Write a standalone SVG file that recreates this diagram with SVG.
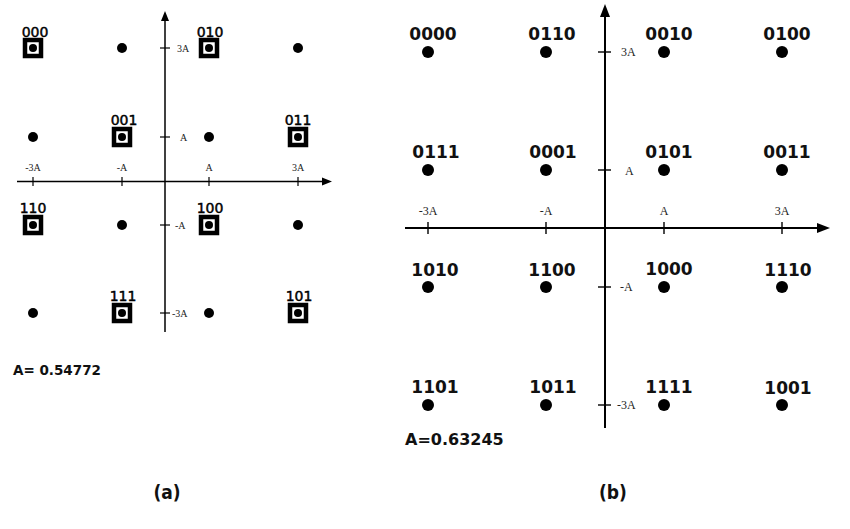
<svg xmlns="http://www.w3.org/2000/svg" width="850" height="529" viewBox="0 0 850 529">
<defs>
<style>
.ax{stroke:#000;fill:none}
.ah{fill:#000}
.dl{fill:#000}
.box{fill:#fff;stroke:#000;stroke-width:4.5}
.la{font-family:"DejaVu Sans",sans-serif;font-size:14px;text-anchor:middle;fill:#000;stroke:#000;stroke-width:0.45}
.lb{font-family:"DejaVu Sans",sans-serif;font-size:17px;font-weight:bold;text-anchor:middle;fill:#111}
.ta{font-family:"Liberation Serif",serif;font-size:10px;fill:#222}
.tb{font-family:"Liberation Serif",serif;font-size:12px;fill:#222}
.cap{font-family:"DejaVu Sans",sans-serif;font-weight:bold;fill:#111}
.sub{font-family:"DejaVu Sans Condensed","DejaVu Sans",sans-serif;font-weight:bold;font-size:19px;text-anchor:middle;fill:#111}
</style>
</defs>
<rect width="850" height="529" fill="#fff"/>

<!-- (a) axes -->
<g id="axes-a">
<line class="ax" stroke-width="1.5" x1="17" y1="181.5" x2="324" y2="181.5"/>
<polygon class="ah" points="332,181.5 322,177.5 322,185.5"/>
<line class="ax" stroke-width="1.5" x1="165" y1="20" x2="165" y2="332"/>
<polygon class="ah" points="165,11 161,21 169,21"/>
<g class="ax" stroke-width="1.2">
<line x1="33" y1="177" x2="33" y2="186"/>
<line x1="122" y1="177" x2="122" y2="186"/>
<line x1="209" y1="177" x2="209" y2="186"/>
<line x1="298" y1="177" x2="298" y2="186"/>
<line x1="160" y1="48" x2="170" y2="48"/>
<line x1="160" y1="137" x2="170" y2="137"/>
<line x1="160" y1="225" x2="170" y2="225"/>
<line x1="160" y1="313" x2="170" y2="313"/>
</g>
<text class="ta" x="33" y="171" text-anchor="middle">-3A</text>
<text class="ta" x="122" y="171" text-anchor="middle">-A</text>
<text class="ta" x="209" y="171" text-anchor="middle">A</text>
<text class="ta" x="298" y="171" text-anchor="middle">3A</text>
<text class="ta" x="177" y="52">3A</text>
<text class="ta" x="180" y="141">A</text>
<text class="ta" x="175" y="229">-A</text>
<text class="ta" x="172" y="317">-3A</text>
</g>

<!-- (a) points -->
<g id="a-000"><rect class="box" x="25" y="40" width="16" height="16"/><circle class="dl" cx="33" cy="48" r="4"/><text class="la" x="35" y="37">000</text></g>
<g id="a-p12"><circle class="dl" cx="122" cy="48" r="5"/></g>
<g id="a-010"><rect class="box" x="201" y="40" width="16" height="16"/><circle class="dl" cx="209" cy="48" r="4"/><text class="la" x="210" y="37">010</text></g>
<g id="a-p14"><circle class="dl" cx="298" cy="48" r="5"/></g>

<g id="a-p21"><circle class="dl" cx="33" cy="137" r="5"/></g>
<g id="a-001"><rect class="box" x="114" y="129" width="16" height="16"/><circle class="dl" cx="122" cy="137" r="4"/><text class="la" x="124" y="125">001</text></g>
<g id="a-p23"><circle class="dl" cx="209" cy="137" r="5"/></g>
<g id="a-011"><rect class="box" x="290" y="129" width="16" height="16"/><circle class="dl" cx="298" cy="137" r="4"/><text class="la" x="298" y="125">011</text></g>

<g id="a-110"><rect class="box" x="25" y="217" width="16" height="16"/><circle class="dl" cx="33" cy="225" r="4"/><text class="la" x="33" y="213">110</text></g>
<g id="a-p32"><circle class="dl" cx="122" cy="225" r="5"/></g>
<g id="a-100"><rect class="box" x="201" y="217" width="16" height="16"/><circle class="dl" cx="209" cy="225" r="4"/><text class="la" x="210" y="213">100</text></g>
<g id="a-p34"><circle class="dl" cx="298" cy="225" r="5"/></g>

<g id="a-p41"><circle class="dl" cx="33" cy="313" r="5"/></g>
<g id="a-111"><rect class="box" x="114" y="305" width="16" height="16"/><circle class="dl" cx="122" cy="313" r="4"/><text class="la" x="123" y="301">111</text></g>
<g id="a-p43"><circle class="dl" cx="209" cy="313" r="5"/></g>
<g id="a-101"><rect class="box" x="290" y="305" width="16" height="16"/><circle class="dl" cx="298" cy="313" r="4"/><text class="la" x="299" y="301">101</text></g>

<text class="cap" x="13" y="375" font-size="13.5">A= 0.54772</text>

<!-- (b) axes -->
<g id="axes-b">
<line class="ax" stroke-width="2" x1="405" y1="228" x2="818" y2="228"/>
<polygon class="ah" points="830,228 817,223 817,233"/>
<line class="ax" stroke-width="2" x1="605" y1="16" x2="605" y2="428"/>
<polygon class="ah" points="605,4 600,17 610,17"/>
<g class="ax" stroke-width="1.4">
<line x1="428" y1="222" x2="428" y2="234"/>
<line x1="546" y1="222" x2="546" y2="234"/>
<line x1="664" y1="222" x2="664" y2="234"/>
<line x1="782" y1="222" x2="782" y2="234"/>
<line x1="598" y1="52" x2="611" y2="52"/>
<line x1="598" y1="170" x2="611" y2="170"/>
<line x1="598" y1="287" x2="611" y2="287"/>
<line x1="598" y1="405" x2="611" y2="405"/>
</g>
<text class="tb" x="428" y="215" text-anchor="middle">-3A</text>
<text class="tb" x="546" y="215" text-anchor="middle">-A</text>
<text class="tb" x="664" y="215" text-anchor="middle">A</text>
<text class="tb" x="782" y="215" text-anchor="middle">3A</text>
<text class="tb" x="621" y="56">3A</text>
<text class="tb" x="625" y="175">A</text>
<text class="tb" x="620" y="291">-A</text>
<text class="tb" x="617" y="409">-3A</text>
</g>

<!-- (b) points -->
<g id="b-0000"><circle class="dl" cx="428" cy="52" r="6"/><text class="lb" x="433" y="40">0000</text></g>
<g id="b-0110"><circle class="dl" cx="546" cy="52" r="6"/><text class="lb" x="552" y="40">0110</text></g>
<g id="b-0010"><circle class="dl" cx="664" cy="52" r="6"/><text class="lb" x="669" y="40">0010</text></g>
<g id="b-0100"><circle class="dl" cx="782" cy="52" r="6"/><text class="lb" x="787" y="40">0100</text></g>

<g id="b-0111"><circle class="dl" cx="428" cy="170" r="6"/><text class="lb" x="436" y="158">0111</text></g>
<g id="b-0001"><circle class="dl" cx="546" cy="170" r="6"/><text class="lb" x="553" y="158">0001</text></g>
<g id="b-0101"><circle class="dl" cx="664" cy="170" r="6"/><text class="lb" x="669" y="158">0101</text></g>
<g id="b-0011"><circle class="dl" cx="782" cy="170" r="6"/><text class="lb" x="787" y="158">0011</text></g>

<g id="b-1010"><circle class="dl" cx="428" cy="287" r="6"/><text class="lb" x="435" y="276">1010</text></g>
<g id="b-1100"><circle class="dl" cx="546" cy="287" r="6"/><text class="lb" x="552" y="276">1100</text></g>
<g id="b-1000"><circle class="dl" cx="664" cy="287" r="6"/><text class="lb" x="669" y="275">1000</text></g>
<g id="b-1110"><circle class="dl" cx="782" cy="287" r="6"/><text class="lb" x="788" y="276">1110</text></g>

<g id="b-1101"><circle class="dl" cx="428" cy="405" r="6"/><text class="lb" x="435" y="393">1101</text></g>
<g id="b-1011"><circle class="dl" cx="546" cy="405" r="6"/><text class="lb" x="553" y="393">1011</text></g>
<g id="b-1111"><circle class="dl" cx="664" cy="405" r="6"/><text class="lb" x="669" y="393">1111</text></g>
<g id="b-1001"><circle class="dl" cx="782" cy="405" r="6"/><text class="lb" x="788" y="394">1001</text></g>

<text class="cap" x="405" y="445" font-size="16">A=0.63245</text>

<text class="sub" x="167" y="499">(a)</text>
<text class="sub" x="613" y="499">(b)</text>
</svg>
